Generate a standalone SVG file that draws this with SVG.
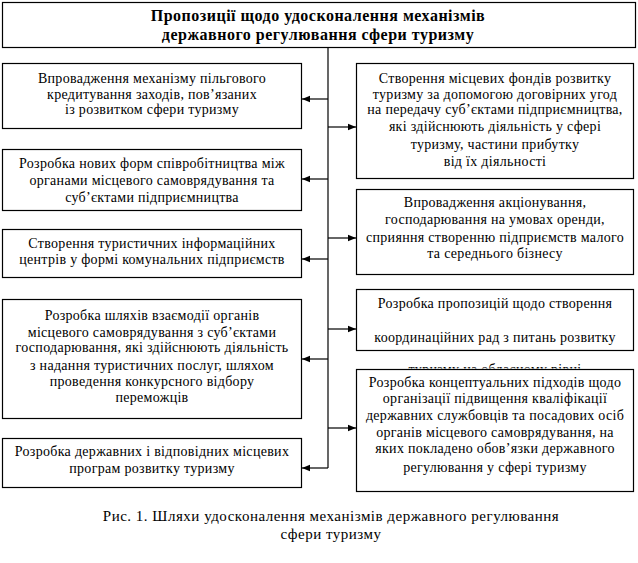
<svg xmlns="http://www.w3.org/2000/svg" width="638" height="563" viewBox="0 0 638 563" font-family="Liberation Serif, serif">
<style>
.box{fill:#fff;stroke:#000;stroke-width:1.2}
.t{font-size:14px;fill:#000;text-anchor:middle;letter-spacing:0.3px}
.cap{font-size:15px;fill:#000;text-anchor:middle;letter-spacing:0.5px}
.title{font-size:16px;font-weight:bold;fill:#000;text-anchor:middle;letter-spacing:0.5px}
.c{stroke:#000;stroke-width:1.2;fill:none}
</style>
<defs>
<marker id="ah" viewBox="0 0 8 8" refX="8" refY="4" markerWidth="8" markerHeight="8" markerUnits="userSpaceOnUse" orient="auto">
<path d="M0,0.8 L8,4 L0,7.2 Z" fill="#000"/>
</marker>
<clipPath id="cut"><rect x="356" y="350" width="280" height="18.5"/></clipPath>
</defs>
<rect width="638" height="563" fill="#fff"/>
<g id="title">
<rect class="box" x="2.5" y="2.5" width="633" height="45"/>
<text class="title" x="318" y="21">Пропозиції щодо удосконалення механізмів</text>
<text class="title" x="318" y="40">державного регулювання сфери туризму</text>
</g>
<g id="connectors">
<path class="c" d="M328,48 V468"/>
<path class="c" d="M328,99 H302" marker-end="url(#ah)"/>
<path class="c" d="M328,179 H302" marker-end="url(#ah)"/>
<path class="c" d="M328,259 H302" marker-end="url(#ah)"/>
<path class="c" d="M328,359 H302" marker-end="url(#ah)"/>
<path class="c" d="M328,468 H302" marker-end="url(#ah)"/>
<path class="c" d="M328,127 H356" marker-end="url(#ah)"/>
<path class="c" d="M328,238 H356" marker-end="url(#ah)"/>
<path class="c" d="M328,329 H356" marker-end="url(#ah)"/>
<path class="c" d="M328,428 H356" marker-end="url(#ah)"/>
</g>
<g id="l1">
<rect class="box" x="2.5" y="63.5" width="299" height="65"/>
<text class="t" x="152" y="83">Впровадження механізму пільгового</text>
<text class="t" x="152" y="99">кредитування заходів, пов’язаних</text>
<text class="t" x="152" y="114">із розвитком сфери туризму</text>
</g>
<g id="l2">
<rect class="box" x="2.5" y="149.5" width="299" height="61"/>
<text class="t" x="152" y="168">Розробка нових форм співробітництва між</text>
<text class="t" x="152" y="185">органами місцевого самоврядування та</text>
<text class="t" x="152" y="202">суб’єктами підприємництва</text>
</g>
<g id="l3">
<rect class="box" x="2.5" y="229.5" width="299" height="48"/>
<text class="t" x="152" y="248">Створення туристичних інформаційних</text>
<text class="t" x="152" y="264">центрів у формі комунальних підприємств</text>
</g>
<g id="l4">
<rect class="box" x="2.5" y="299.5" width="299" height="119"/>
<text class="t" x="152" y="320">Розробка шляхів взаємодії органів</text>
<text class="t" x="152" y="337">місцевого самоврядування з суб’єктами</text>
<text class="t" x="152" y="352">господарювання, які здійснюють діяльність</text>
<text class="t" x="152" y="370">з надання туристичних послуг, шляхом</text>
<text class="t" x="152" y="386">проведення конкурсного відбору</text>
<text class="t" x="152" y="402">переможців</text>
</g>
<g id="l5">
<rect class="box" x="2.5" y="438.5" width="299" height="49"/>
<text class="t" x="152" y="456">Розробка державних і відповідних місцевих</text>
<text class="t" x="152" y="473">програм розвитку туризму</text>
</g>
<g id="r1">
<rect class="box" x="356.5" y="63.5" width="277" height="115"/>
<text class="t" x="495" y="83">Створення місцевих фондів розвитку</text>
<text class="t" x="495" y="99">туризму за допомогою договірних угод</text>
<text class="t" x="495" y="114">на передачу суб’єктами підприємництва,</text>
<text class="t" x="495" y="131">які здійснюють діяльність у сфері</text>
<text class="t" x="495" y="149">туризму, частини прибутку</text>
<text class="t" x="495" y="166">від їх діяльності</text>
</g>
<g id="r2">
<rect class="box" x="356.5" y="189.5" width="277" height="85"/>
<text class="t" x="495" y="207">Впровадження акціонування,</text>
<text class="t" x="495" y="224">господарювання на умовах оренди,</text>
<text class="t" x="495" y="242">сприяння створенню підприємств малого</text>
<text class="t" x="495" y="258">та середнього бізнесу</text>
</g>
<g id="r3">
<rect class="box" x="356.5" y="289.5" width="277" height="61"/>
<text class="t" x="495" y="308">Розробка пропозицій щодо створення</text>
<text class="t" x="495" y="342">координаційних рад з питань розвитку</text>
<text class="t" x="495" y="374" clip-path="url(#cut)">туризму на обласному рівні</text>
</g>
<g id="r4">
<rect class="box" x="356.5" y="369.5" width="277" height="122"/>
<text class="t" x="495" y="387">Розробка концептуальних підходів щодо</text>
<text class="t" x="495" y="403">організації підвищення кваліфікації</text>
<text class="t" x="495" y="420">державних службовців та посадових осіб</text>
<text class="t" x="495" y="437">органів місцевого самоврядування, на</text>
<text class="t" x="495" y="453">яких покладено обов’язки державного</text>
<text class="t" x="495" y="472">регулювання у сфері туризму</text>
</g>
<g id="caption">
<text class="cap" x="331" y="521">Рис. 1. Шляхи удосконалення механізмів державного регулювання</text>
<text class="cap" x="331" y="539">сфери туризму</text>
</g>
</svg>
